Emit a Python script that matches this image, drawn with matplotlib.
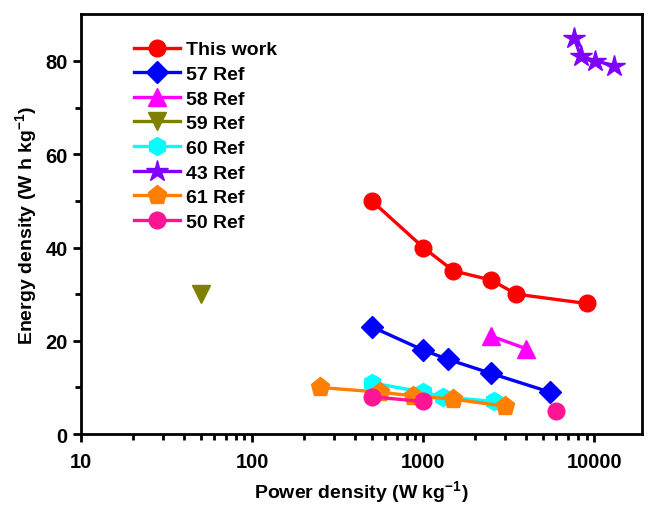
import matplotlib
matplotlib.use("Agg")
import matplotlib.pyplot as plt
from matplotlib.ticker import LogLocator, FixedLocator, NullFormatter

plt.rcParams['font.family'] = ['Liberation Sans', 'DejaVu Sans']
plt.rcParams['font.weight'] = 'bold'
plt.rcParams['mathtext.fontset'] = 'custom'
plt.rcParams['mathtext.rm'] = 'Liberation Sans:bold'
plt.rcParams['mathtext.bf'] = 'Liberation Sans:bold'

# Data
this_work_x = [500, 1000, 1500, 2500, 3500, 9000]
this_work_y = [50, 40, 35, 33, 30, 28]
ref57_x = [500, 1000, 1400, 2500, 5500]
ref57_y = [23, 18, 16, 13, 9]
ref58_x = [2500, 4000]
ref58_y = [21, 18.3]
ref59_x = [50]
ref59_y = [30]
ref60_x = [500, 1000, 1300, 2600]
ref60_y = [11, 9, 8, 7]
ref43_x = [7600, 8300, 10100, 13000]
ref43_y = [85, 81, 80, 79]
ref61_x = [250, 560, 870, 1500, 3000]
ref61_y = [10, 9, 8.2, 7.5, 6]
ref50_x = [500, 1000]
ref50_y = [8, 7]
ref50_extra_x = [6000]
ref50_extra_y = [5]

fig = plt.figure(figsize=(6.48, 5.06), dpi=100)
ax = fig.add_axes([0.125, 0.140, 0.866, 0.830])

lw = 2.4
ms = 12
series = [
    (this_work_x, this_work_y, 'This work', '#FF0000', 'o', ms),
    (ref57_x, ref57_y, '57 Ref', '#0000FF', 'D', ms - 1),
    (ref58_x, ref58_y, '58 Ref', '#FF00FF', '^', ms + 1),
    (ref59_x, ref59_y, '59 Ref', '#808000', 'v', ms + 1),
    (ref60_x, ref60_y, '60 Ref', '#00FFFF', 'h', ms + 1),
    (ref43_x, ref43_y, '43 Ref', '#7F00FF', '*', ms + 4),
    (ref61_x, ref61_y, '61 Ref', '#FF8000', 'p', ms + 2),
    (ref50_x, ref50_y, '50 Ref', '#FF1493', 'o', ms),
]
for x, y, lab, c, m, s in series:
    ax.plot(x, y, color=c, marker=m, markersize=s, linewidth=lw, label=lab,
            markeredgecolor=c, markerfacecolor=c)
ax.plot(ref50_extra_x, ref50_extra_y, linestyle='none', marker='o', markersize=ms,
        color='#FF1493', markeredgecolor='#FF1493')

ax.set_xscale('log')
ax.set_xlim(10, 19000)
ax.set_ylim(0, 90)
ax.xaxis.set_major_locator(FixedLocator([10, 100, 1000, 10000]))
ax.set_xticklabels(['10', '100', '1000', '10000'])
ax.xaxis.set_minor_locator(LogLocator(base=10, subs=range(2, 10), numticks=20))
ax.xaxis.set_minor_formatter(NullFormatter())
ax.yaxis.set_major_locator(FixedLocator([0, 20, 40, 60, 80]))
ax.yaxis.set_minor_locator(FixedLocator([10, 30, 50, 70]))

for s in ax.spines.values():
    s.set_linewidth(2)
ax.tick_params(which='major', direction='out', length=6, width=2, labelsize=14.5)
ax.tick_params(axis='x', which='major', pad=7)
ax.tick_params(which='minor', direction='out', length=4, width=2)
for t in ax.get_xticklabels() + ax.get_yticklabels():
    t.set_fontweight('bold')

ax.set_xlabel(r'Power density (W kg$^{-1}$)', fontsize=14, fontweight='bold', labelpad=5)
ax.set_ylabel(r'Energy density (W h kg$^{-1}$)', fontsize=14, fontweight='bold', labelpad=4)

leg = ax.legend(loc='upper left', bbox_to_anchor=(0.08, 0.955), frameon=False,
                prop={'weight': 'bold', 'size': 14}, handlelength=2.4,
                handletextpad=0.3, labelspacing=0.36, borderaxespad=0)

fig.savefig('out.png', dpi=100)
